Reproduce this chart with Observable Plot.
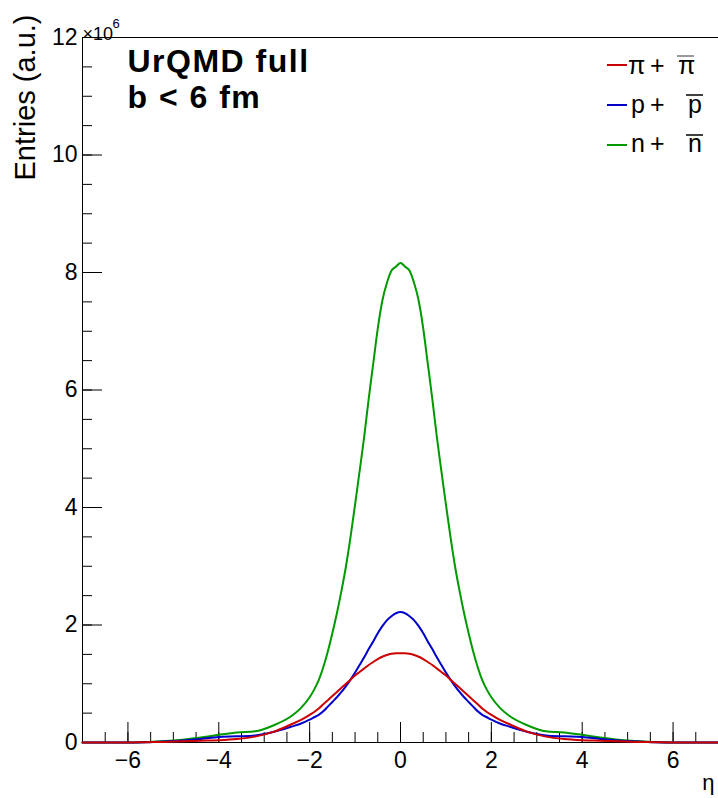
<!DOCTYPE html>
<html><head><meta charset="utf-8">
<script src="https://cdn.jsdelivr.net/npm/d3@7"></script>
<script src="https://cdn.jsdelivr.net/npm/@observablehq/plot@0.6"></script>
<style>
html,body{margin:0;padding:0;background:#fff;}
#chart{width:718px;height:798px;}
</style></head><body><div id="chart"></div>
<script>
// pseudorapidity grid (bin centres)
const eta = [-7, -6, -5.6, -5.2, -4.8, -4.4, -4, -3.6, -3.2, -2.8, -2.4, -2.2, -2,
  -1.9, -1.8, -1.7, -1.6, -1.5, -1.4, -1.3, -1.2, -1.1, -1, -0.9, -0.8, -0.7, -0.6, -0.5, -0.4, -0.3, -0.2, -0.1,
  0,
  0.1, 0.2, 0.3, 0.4, 0.5, 0.6, 0.7, 0.8, 0.9, 1, 1.1, 1.2, 1.3, 1.4, 1.5, 1.6, 1.7, 1.8, 1.9,
  2, 2.2, 2.4, 2.8, 3.2, 3.6, 4, 4.4, 4.8, 5.2, 5.6, 6, 7];

// entries in units of 10^6
const pions = [0, 0, 0.005, 0.01, 0.02, 0.03, 0.04, 0.06, 0.10, 0.18, 0.31, 0.38, 0.47,
  0.52, 0.58, 0.65, 0.72, 0.79, 0.86, 0.93, 1.00, 1.07, 1.14, 1.20, 1.26, 1.32, 1.37, 1.42, 1.46, 1.49, 1.51, 1.52,
  1.52,
  1.52, 1.51, 1.49, 1.46, 1.42, 1.37, 1.32, 1.26, 1.20, 1.14, 1.07, 1.00, 0.93, 0.86, 0.79, 0.72, 0.65, 0.58, 0.52,
  0.47, 0.38, 0.31, 0.18, 0.10, 0.06, 0.04, 0.03, 0.02, 0.01, 0.005, 0, 0];

const protons = [0, 0, 0.005, 0.018, 0.035, 0.06, 0.095, 0.105, 0.12, 0.18, 0.27, 0.32, 0.39,
  0.43, 0.47, 0.53, 0.61, 0.69, 0.77, 0.86, 0.96, 1.07, 1.19, 1.32, 1.45, 1.59, 1.72, 1.86, 1.98, 2.08, 2.15, 2.20,
  2.22,
  2.20, 2.15, 2.08, 1.98, 1.86, 1.72, 1.59, 1.45, 1.32, 1.19, 1.07, 0.96, 0.86, 0.77, 0.69, 0.61, 0.53, 0.47, 0.43,
  0.39, 0.32, 0.27, 0.18, 0.12, 0.105, 0.095, 0.06, 0.035, 0.018, 0.005, 0, 0];

const neutrons = [0, 0, 0.008, 0.025, 0.045, 0.085, 0.13, 0.17, 0.19, 0.29, 0.45, 0.58, 0.77,
  0.90, 1.06, 1.28, 1.55, 1.86, 2.20, 2.58, 3.00, 3.50, 4.05, 4.62, 5.20, 5.85, 6.45, 7.05, 7.52, 7.82, 8.03, 8.10,
  8.16,
  8.10, 8.03, 7.82, 7.52, 7.05, 6.45, 5.85, 5.20, 4.62, 4.05, 3.50, 3.00, 2.58, 2.20, 1.86, 1.55, 1.28, 1.06, 0.90,
  0.77, 0.58, 0.45, 0.29, 0.19, 0.17, 0.13, 0.085, 0.045, 0.025, 0.008, 0, 0];

const seriesKeys = ["pi", "p", "n"];
const seriesColors = ["#cc0000", "#0000cc", "#009a00"];
const legendBase = ["π", "p", "n"];
const titleLines = ["UrQMD full", "b < 6 fm"];

const xMajor = [-6, -4, -2, 0, 2, 4, 6];
const xMinor = d3.range(-7, 7.01, 0.5);
const yMajor = [0, 2, 4, 6, 8, 10, 12];
const yMinor = d3.range(0, 12.01, 0.5);

const rows = [];
const valueSets = [pions, protons, neutrons];
// draw order: n, p, pi (pi on top)
[2, 1, 0].forEach(s => eta.forEach((e, i) => rows.push({eta: e, v: valueSets[s][i], series: seriesKeys[s]})));

const font = "'Liberation Sans', Arial, Helvetica, sans-serif";
const fmt = d => d < 0 ? "\u2212" + (-d) : String(d);

const svg = Plot.plot({
  width: 718, height: 798,
  marginLeft: 82, marginRight: 0, marginTop: 37, marginBottom: 56,
  style: {fontFamily: font, background: "#fff", color: "#000", overflow: "visible"},
  x: {domain: [-7, 7]},
  y: {domain: [0, 12]},
  color: {domain: seriesKeys, range: seriesColors},
  marks: [
    Plot.frame({stroke: "#000", strokeWidth: 1}),
    Plot.axisX({ticks: xMinor, tickSize: -10, fill: "none", label: null, stroke: "#000"}),
    Plot.axisX({ticks: xMajor, tickSize: -20, fill: "none", label: null, stroke: "#000"}),
    Plot.axisX({ticks: xMajor, tickSize: 0, tickPadding: 9, tickFormat: fmt, label: null, fontSize: 23}),
    Plot.axisY({ticks: yMinor, tickSize: -10, fill: "none", label: null, stroke: "#000"}),
    Plot.axisY({ticks: yMajor, tickSize: -20, fill: "none", label: null, stroke: "#000"}),
    Plot.axisY({ticks: yMajor, tickSize: 0, tickPadding: 5, tickFormat: fmt, label: null, fontSize: 23}),
    Plot.line(rows, {x: "eta", y: "v", z: "series", stroke: "series", strokeWidth: 2, curve: "monotone-x"}),
    Plot.text(["Entries (a.u.)"], {frameAnchor: "top-left", dx: -68, dy: -23, rotate: -90, textAnchor: "end", fontSize: 29}),
    Plot.text(["\u00d710"], {frameAnchor: "top-left", dx: 0, dy: -10, textAnchor: "start", fontSize: 18}),
    Plot.text(["6"], {frameAnchor: "top-left", dx: 30, dy: -19, textAnchor: "start", fontSize: 13}),
    Plot.text([titleLines[0]], {frameAnchor: "top-left", dx: 45, dy: 12, textAnchor: "start", fontSize: 32, fontWeight: "bold"}),
    Plot.text([titleLines[1]], {frameAnchor: "top-left", dx: 45, dy: 48, textAnchor: "start", fontSize: 32, fontWeight: "bold"}),
    Plot.text(["\u03b7"], {frameAnchor: "bottom-right", dx: -4, dy: 47, textAnchor: "end", fontSize: 22})
  ]
});

// widen the bold title slightly (ROOT Helvetica-Bold is wider)
d3.select(svg).selectAll("text").filter(function() { return titleLines.includes(this.textContent); })
  .style("letter-spacing", "1.5px");

// legend (ROOT TLegend style)
const lg = d3.select(svg).append("g")
  .attr("font-family", font).attr("font-size", 25).attr("text-anchor", "start").attr("fill", "#000");
const rowBase = [74, 113, 152];
const rowLine = [65, 105, 145];
const barLine = [56, 95, 135];
const barX = [[677, 694], [686, 703], [686, 703]];
const barCharX = [678, 688, 688];
legendBase.forEach((c, i) => {
  const yb = rowBase[i];
  lg.append("line").attr("x1", 607).attr("x2", 627).attr("y1", rowLine[i]).attr("y2", rowLine[i])
    .attr("stroke", seriesColors[i]).attr("stroke-width", 2);
  lg.append("text").attr("x", i === 0 ? 628 : 631).attr("y", yb).text(c);
  lg.append("text").attr("x", 650).attr("y", yb).text("+");
  lg.append("text").attr("x", barCharX[i]).attr("y", yb).text(c);
  lg.append("line").attr("x1", barX[i][0]).attr("x2", barX[i][1])
    .attr("y1", barLine[i]).attr("y2", barLine[i])
    .attr("stroke", i === 0 ? "#777" : "#000").attr("stroke-width", 1.5);
});

document.getElementById("chart").appendChild(svg);
</script>
</body></html>
